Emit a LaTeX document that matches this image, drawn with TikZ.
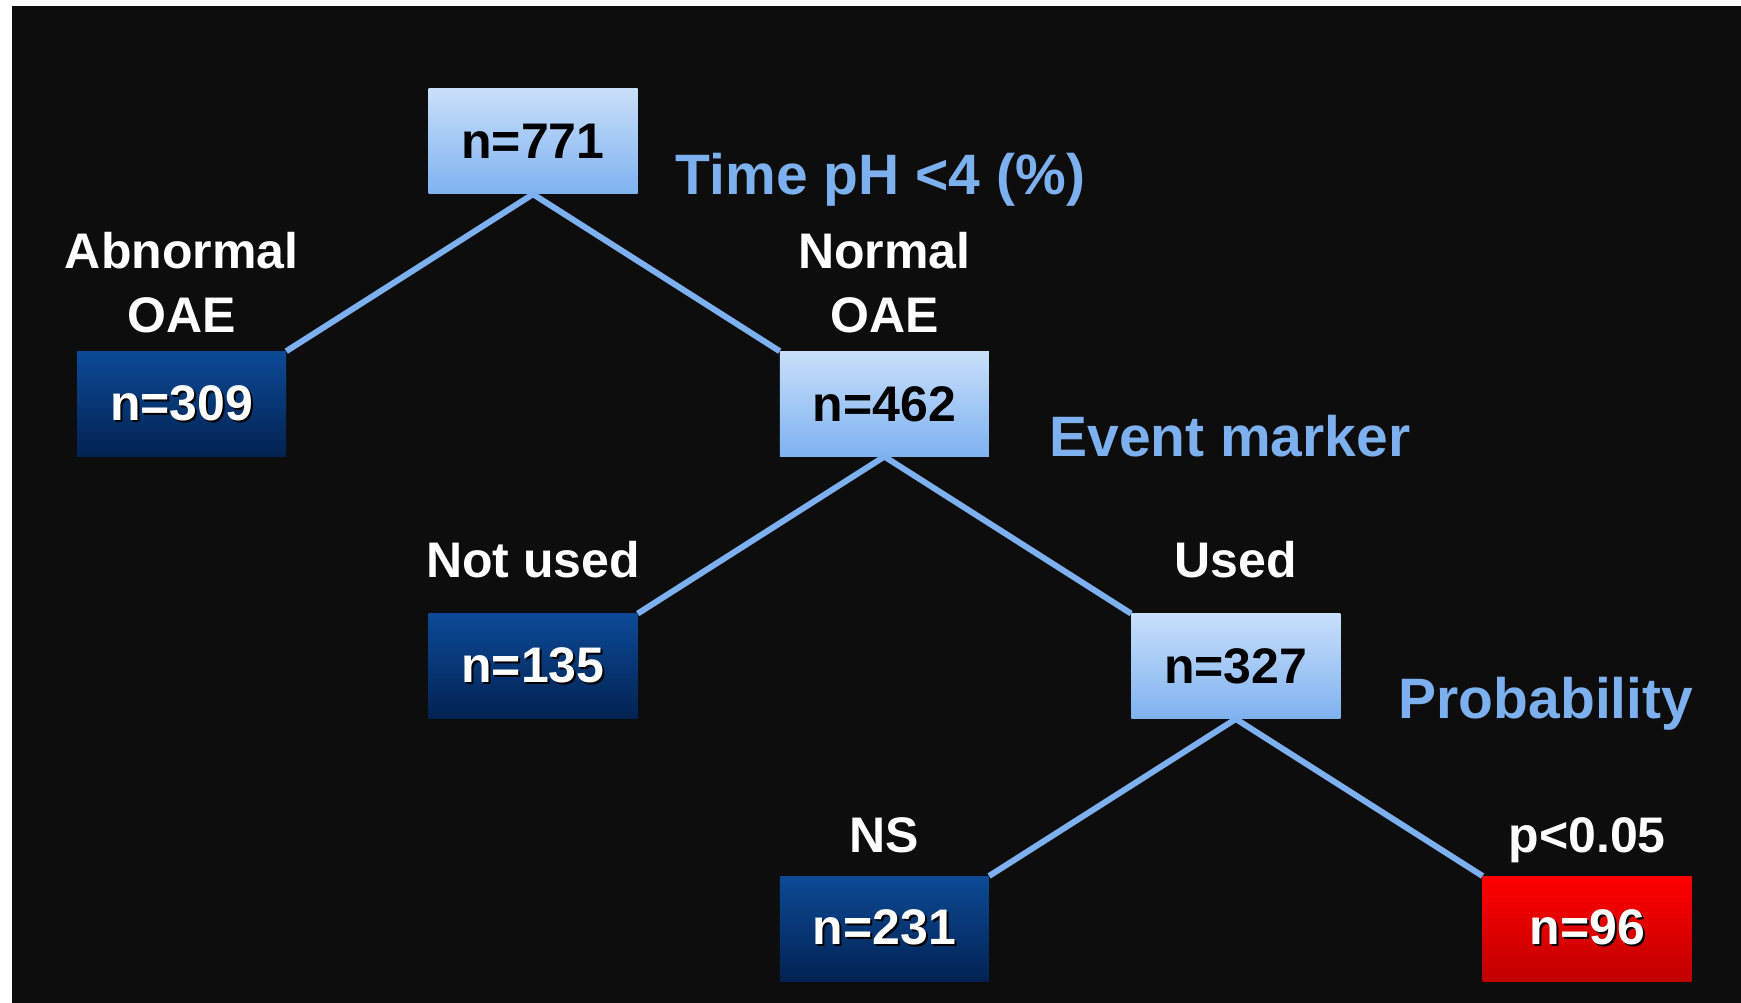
\documentclass[tikz,border=0pt]{standalone}
\usepackage{fontspec}
\setmainfont{Liberation Sans}
\usepackage{graphicx}
\usetikzlibrary{positioning}
\definecolor{bgdark}{RGB}{13,13,13}
\definecolor{skytop}{RGB}{200,223,250}
\definecolor{skybot}{RGB}{126,178,240}
\definecolor{navytop}{RGB}{12,74,150}
\definecolor{navybot}{RGB}{2,34,82}
\definecolor{redtop}{RGB}{255,0,0}
\definecolor{redbot}{RGB}{192,0,0}
\definecolor{branchblue}{RGB}{125,176,238}
\newcommand\shadowed[1]{\rlap{\kern2pt\raisebox{-2pt}{\color{black}#1}}#1}
\tikzset{
leaf/.style={shape=rectangle, minimum width=209pt, minimum height=105pt, inner sep=0, font=\fontsize{50}{60}\selectfont\bfseries}, lightbox/.style={leaf, top color=skytop, bottom color=skybot, text=black}, darkbox/.style={leaf, top color=navytop, bottom color=navybot, text=white}, redbox/.style={leaf, top color=redtop, bottom color=redbot, text=white},
tag/.style={inner sep=0, text=white, align=center, text depth=0pt, font=\fontsize{50}{64}\selectfont\bfseries}, crit/.style={inner sep=0, text=branchblue, anchor=base west, font=\fontsize{57}{60}\selectfont\bfseries},
branch/.style={draw=branchblue, line width=6pt}}
\begin{document}
\begin{tikzpicture}[node distance=157pt and 142pt]
\useasboundingbox (0,0) rectangle (1741pt,1003pt);
\fill [white] (0,0) rectangle (1741pt,1003pt);
\fill [bgdark] (12pt,0) rectangle (1741pt,997pt);
\node [lightbox] (n771) at (533pt,861.5pt) {n=771};
\node [darkbox, below left=of n771] (n309) {\shadowed{n=309}};
\node [lightbox, below right=of n771] (n462) {n=462};
\node [darkbox, below left=of n462] (n135) {\shadowed{n=135}};
\node [lightbox, below right=of n462] (n327) {n=327};
\node [darkbox, below left=of n327] (n231) {\shadowed{n=231}};
\node [redbox, below right=of n327] (n96) {\shadowed{n=96}};
\draw [branch] (n771.south) -- (n309.north east);
\draw [branch] (n771.south) -- (n462.north west);
\draw [branch] (n462.south) -- (n135.north east);
\draw [branch] (n462.south) -- (n327.north west);
\draw [branch] (n327.south) -- (n231.north east);
\draw [branch] (n327.south) -- (n96.north west);
\node [tag, above=18pt of n309] (l309) {Abnormal\\OAE};
\node [tag, above=18pt of n462] (l462) {Normal\\OAE};
\node [tag, above=36pt of n135] (l135) {Not used};
\node [tag, above=36pt of n327] (l327) {Used};
\node [tag, above=23pt of n231] (l231) {NS};
\node [tag, above=23pt of n96] (l96) {p<0.05};
\node [crit] (t771) at ([xshift=38pt]n771.south east) {Time pH <4 (\%)};
\node [crit] (t462) at ([xshift=60pt]n462.south east) {Event marker};
\node [crit] (t327) at ([xshift=58pt]n327.south east) {Probability};
\end{tikzpicture}
\end{document}
